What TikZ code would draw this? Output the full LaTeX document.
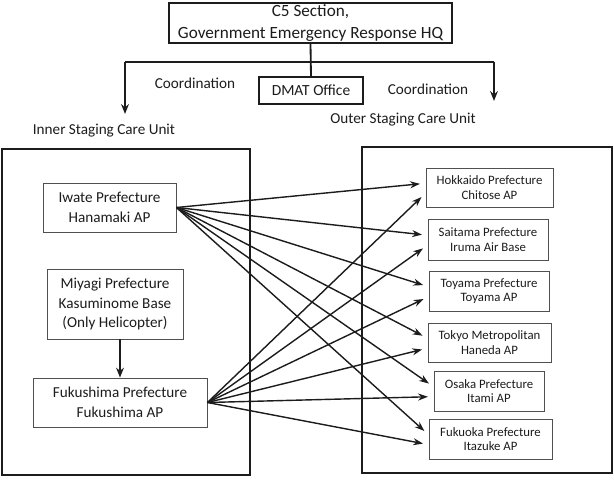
\documentclass[tikz,border=0pt]{standalone}
\usepackage{fontspec}
\setmainfont{Carlito}
\usetikzlibrary{arrows.meta}

\definecolor{ink}{HTML}{1C1C1C}
\definecolor{boxgray}{HTML}{505050}

\tikzset{
  hqbox/.style={draw=ink, line width=0.8pt, align=center, inner sep=0pt,
    font=\fontsize{12.2}{15.5}\selectfont, text=ink},
  unitbox/.style={draw=boxgray, line width=0.6pt, align=center, inner sep=0pt,
    font=\fontsize{10.8}{14.2}\selectfont, text=ink},
  portbox/.style={draw=boxgray, line width=0.6pt, align=center, inner sep=0pt,
    font=\fontsize{9.1}{10.4}\selectfont, text=ink},
  caption/.style={font=\fontsize{10.8}{13}\selectfont, text=ink},
  frame/.style={draw=ink, line width=1.4pt},
  link/.style={draw=ink, line width=1pt, -{Stealth[length=7pt,width=5pt]}, shorten >=4pt},
  order/.style={draw=ink, line width=1.3pt, -{Stealth[length=7pt,width=5.5pt]}}
}

\begin{document}
\begin{tikzpicture}[x=0.025cm, y=-0.025cm]
\useasboundingbox (0,0) rectangle (614,482);

% Headquarters and DMAT office
\node[hqbox, minimum width=7.075cm, minimum height=1cm] (hq) at (310.5,23)
  {C5 Section,\\Government Emergency Response HQ};
\node[hqbox, font=\fontsize{11}{13}\selectfont, minimum width=2.6cm, minimum height=0.675cm]
  (dmat) at (311,90.5) {DMAT Office};
\coordinate (bar) at (311,62);
\coordinate (barleft) at (125,62);
\coordinate (barright) at (494,62);
\coordinate (innertip) at (125,114);
\coordinate (outertip) at (494,101);
\draw[ink, line width=1.3pt] (hq.south) -- (dmat.north);
\draw[ink, line width=1.3pt] (barleft) -- (barright);
\draw[order] (barleft) -- (innertip);
\draw[order] (barright) -- (outertip);
\node[caption] (coordl) at (195,83) {Coordination};
\node[caption] (coordr) at (428,89) {Coordination};

% The two staging care units
\node[caption] (innerlbl) at (104,131) {Inner Staging Care Unit};
\node[caption] (outerlbl) at (403,120) {Outer Staging Care Unit};
\draw[frame] (2,149) rectangle (250,475);
\draw[frame] (362,147) rectangle (612,473);

% Inner airports
\node[unitbox, minimum width=3.325cm, minimum height=1.225cm] (iwate) at (109.5,207.5)
  {Iwate Prefecture\\Hanamaki AP};
\node[unitbox, minimum width=3.4cm, minimum height=1.75cm] (miyagi) at (115,304)
  {Miyagi Prefecture\\Kasuminome Base\\(Only Helicopter)};
\node[unitbox, minimum width=4.35cm, minimum height=1.225cm] (fukushima) at (120,402.5)
  {Fukushima Prefecture\\Fukushima AP};
\draw[order, line width=1.1pt] (miyagi.south -| fukushima.north) -- (fukushima.north);

% Outer airports
\node[portbox, minimum width=3.175cm, minimum height=0.975cm] (hokkaido) at (489.5,187.5)
  {Hokkaido Prefecture\\Chitose AP};
\node[portbox, minimum width=3cm, minimum height=1.025cm] (saitama) at (488,239.5)
  {Saitama Prefecture\\Iruma Air Base};
\node[portbox, minimum width=3cm, minimum height=1cm] (toyama) at (489,291)
  {Toyama Prefecture\\Toyama AP};
\node[portbox, minimum width=3.075cm, minimum height=0.975cm] (tokyo) at (489.5,342.5)
  {Tokyo Metropolitan\\Haneda AP};
\node[portbox, minimum width=2.75cm, minimum height=1cm] (osaka) at (489,391)
  {Osaka Prefecture\\Itami AP};
\node[portbox, minimum width=3.075cm, minimum height=1cm] (fukuoka) at (490.5,439)
  {Fukuoka Prefecture\\Itazuke AP};

% Transport links
\foreach \port in {hokkaido,saitama,toyama,tokyo,osaka,fukuoka} {
  \draw[link] (iwate.east) -- ([yshift=3pt]\port.west);
  \draw[link] (fukushima.east) -- ([yshift=-4pt]\port.west);
}

\end{tikzpicture}
\end{document}
